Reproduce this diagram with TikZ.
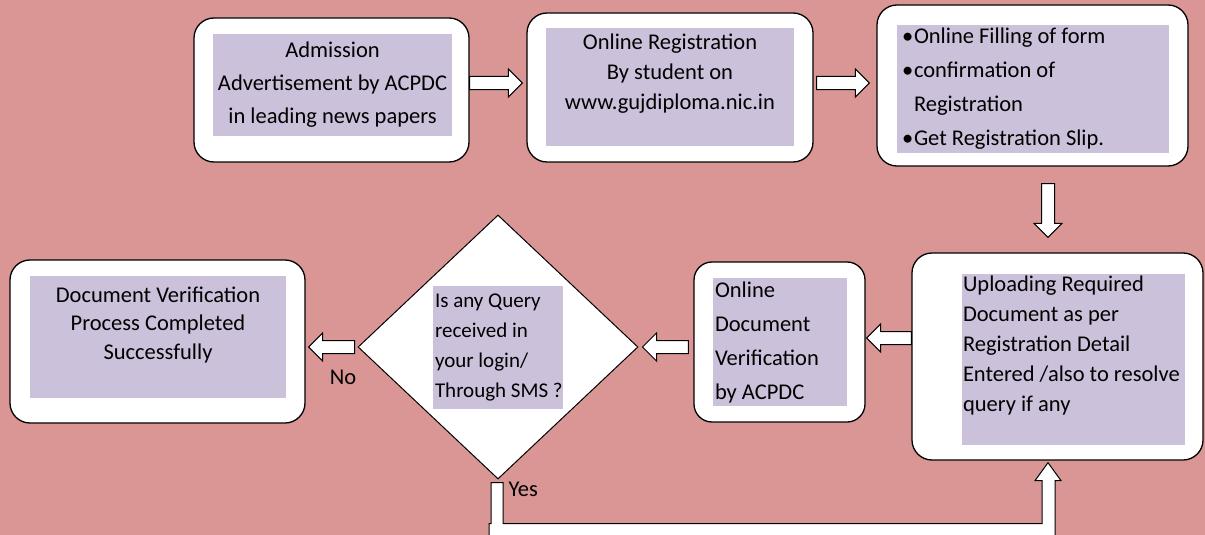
\documentclass[tikz,border=0pt]{standalone}
\usepackage{fontspec}
\setmainfont{Carlito}
\usetikzlibrary{calc,shapes.geometric}

\definecolor{bgpink}{RGB}{217,150,148}
\definecolor{lilac}{RGB}{204,193,218}

\newcommand{\bul}{\makebox[12pt][l]{\textbullet}}
% white block arrow from #1 to #2
\newcommand{\blockarrow}[2]{%
  \draw[barrow] let \p1=(#1), \p2=(#2),
      \n1={atan2(\y2-\y1,\x2-\x1)}, \n2={veclen(\x2-\x1,\y2-\y1)} in
    ($(\p1)+(\n1-90:6.5pt)$)
    -- ($(\p1)+(\n1:{\n2*1pt-14pt})+(\n1-90:6.5pt)$)
    -- ($(\p1)+(\n1:{\n2*1pt-14pt})+(\n1-90:14pt)$)
    -- (\p2)
    -- ($(\p1)+(\n1:{\n2*1pt-14pt})+(\n1+90:14pt)$)
    -- ($(\p1)+(\n1:{\n2*1pt-14pt})+(\n1+90:6.5pt)$)
    -- ($(\p1)+(\n1+90:6.5pt)$) -- cycle;}

\begin{document}
\begin{tikzpicture}[x=1pt,y=-1pt,
    outer/.style={draw,line width=1.3pt,fill=white,rounded corners=20pt,inner sep=0pt},
    row/.style={fill=lilac,inner sep=0pt,font=\fontsize{22.5}{#1}\selectfont},
    row/.default=30,
    label/.style={font=\fontsize{22.5}{26}\selectfont},
    barrow/.style={draw,line width=1pt,fill=white,line join=miter}]
  \useasboundingbox (0,0) rectangle (1205,535);
  \fill[bgpink] (0,0) rectangle (1205,535);
  \clip (0,0) rectangle (1205,535);

  % top row
  \node[outer,minimum width=275pt,minimum height=144pt] (adv) at (331.5,90) {};
  \node[row=33,minimum width=239pt,minimum height=102pt,align=center] (advtxt) at (332.5,85)
    {Admission\\Advertisement by ACPDC\\in leading news papers};

  \node[outer,minimum width=286pt,minimum height=149pt] (reg) at (670,87.5) {};
  \node[row=30,minimum width=248pt,minimum height=118pt,align=center] (regtxt) at (670,87)
    {Online Registration\\By student on\\www.gujdiploma.nic.in\\~};

  \node[outer,minimum width=311pt,minimum height=161pt] (fillform) at (1032.5,85.5) {};
  \node[row=34,minimum width=272pt,minimum height=128pt,text width=262pt,align=flush left] (filltxt) at (1033,89)
    {\bul Online Filling of form\\\bul confirmation of\\\hspace*{12pt}Registration\\\bul Get Registration Slip.};

  % middle row
  \node[outer,minimum width=291pt,minimum height=207pt] (upload) at (1057.5,356.5) {};
  \node[row=30,minimum width=223pt,minimum height=171pt,text width=221pt,align=flush left] (uptxt) at (1073.5,359)
    {Uploading Required\\Document as per\\Registration Detail\\Entered /also to resolve\\query if any\\~};

  \node[outer,rounded corners=18pt,minimum width=171pt,minimum height=160pt] (verify) at (779.5,342) {};
  \node[row=34,minimum width=134pt,minimum height=128pt,text width=130pt,align=flush left] (vertxt) at (780,342)
    {Online\\Document\\Verification\\by ACPDC};

  \node[draw,line width=1pt,fill=white,diamond,minimum width=280pt,minimum height=264pt,inner sep=0pt] (query) at (498,347) {};
  \node[row=30,font=\fontsize{21}{30}\selectfont,minimum width=130pt,minimum height=123pt,text width=126pt,align=flush left] (qtxt) at (498,347.5)
    {Is any Query\\received in\\your login/\\\mbox{Through SMS ?}};

  \node[outer,minimum width=295pt,minimum height=163pt] (done) at (157.5,341.5) {};
  \node[row=28.5,minimum width=256pt,minimum height=122pt,align=center] (donetxt) at (158,337)
    {Document Verification\\Process Completed\\Successfully\\~};

  \node[label] (no) at (343,377) {No};
  \node[label,anchor=west] (yes) at (505,489) {Yes};

  % arrows
  \blockarrow{$(adv.east)+(0,-7)$}{$(reg.west)+(-4,-4.5)$}
  \blockarrow{$(reg.east)+(3,-4.5)$}{$(fillform.west)+(-7,-2.5)$}
  \blockarrow{$(fillform.south)+(15.5,17)$}{$(upload.north)+(-9.5,-15)$}
  \blockarrow{$(upload.west)+(0,-18.5)$}{$(verify.east)+(1,-4)$}
  \blockarrow{$(verify.west)+(-5,5)$}{$(query.east)+(4,0)$}
  \blockarrow{$(query.west)+(-3,0)$}{$(done.east)+(3,5.5)$}

  % yes branch back to upload
  \draw[barrow] let \p1=(query.south), \p2=($(upload.south)+(-9.5,0)$) in
    (\x1-7pt,\y1-3pt) -- (\x1+5pt,\y1-3pt) -- (\x1+5pt,\y2-63pt) -- (\x2-6pt,\y2-63pt)
    -- (\x2-6pt,\y2-20pt) -- (\x2-13pt,\y2-20pt) -- (\x2,\y2-2pt) -- (\x2+13pt,\y2-20pt)
    -- (\x2+7pt,\y2-20pt) -- (\x2+7pt,\y2-90pt) -- (\x1-9pt,\y2-90pt) -- (\x1-9pt,\y2-63pt)
    -- (\x1-7pt,\y2-63pt) -- cycle;
\end{tikzpicture}
\end{document}
